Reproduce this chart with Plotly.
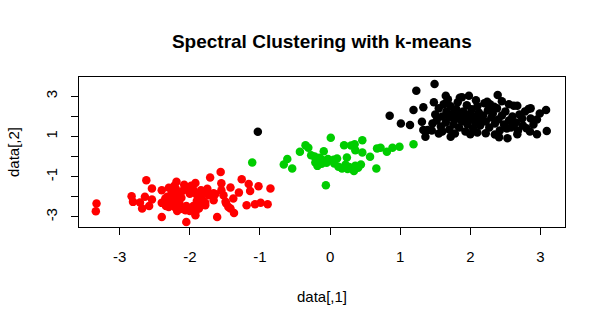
import plotly.graph_objects as go

# Cluster 1 (red)
red_x = [-3.33, -3.34, -2.62, -2.54, -2.83, -2.81, -2.71, -2.68, -2.58, -2.54, -2.40, -2.40, -2.19, -2.32,
         -2.34, -2.05, -1.56, -1.71, -1.92, -1.55, -1.26, -1.16, -1.02, -0.85, -1.42, -1.30, -1.14, -1.64,
         -1.52, -1.38, -1.48, -1.42, -1.37, -1.19, -1.07, -0.99, -0.89, -1.92, -1.61, -1.84, -1.55, -2.64,
         -2.35, -2.30, -2.20, -2.13, -2.06, -1.97, -1.87, -1.78, -1.66, -1.49, -1.45, -1.66, -1.73,
         -2.30, -2.25, -2.20, -2.15, -2.10, -2.05, -2.00, -1.95, -1.90, -1.85, -1.80, -2.30, -2.25, -2.20,
         -2.15, -2.12, -2.05, -1.95, -1.90, -1.88, -1.82, -2.18, -2.10, -2.00, -1.92, -2.28, -2.35, -1.78,
         -2.08, -1.98, -2.22, -1.75, -2.40]
red_y = [-2.33, -2.72, -1.17, -1.59, -1.97, -2.25, -2.28, -2.58, -2.46, -2.13, -1.67, -3.00, -1.25, -1.99,
         -2.46, -3.25, -0.76, -1.04, -1.31, -1.33, -1.13, -1.36, -1.47, -1.59, -1.54, -1.79, -1.71, -1.87,
         -1.92, -2.08, -2.33, -2.58, -2.80, -2.42, -2.37, -2.29, -2.37, -2.92, -3.00, -1.67, -1.67, -2.00,
         -2.08, -2.50, -2.55, -2.50, -2.67, -2.58, -2.58, -2.42, -2.17, -2.25, -2.50, -1.82, -1.92,
         -1.55, -1.80, -1.60, -1.90, -1.70, -1.55, -1.85, -1.65, -1.90, -2.00, -1.80, -2.20, -2.35, -2.10,
         -2.30, -2.05, -2.45, -2.45, -2.20, -2.35, -2.15, -2.70, -2.60, -2.70, -2.75, -1.95, -2.30, -2.30,
         -1.40, -1.45, -1.45, -1.60, -2.30]

# Cluster 2 (green)
green_x = [0.01, -1.11, -0.61, -0.66, -0.54, -0.43, -0.35, -0.31, -0.27, -0.21, -0.18, -0.09, -0.11, -0.03,
           0.04, -0.06, 0.20, 0.35, 0.46, 0.36, 0.46, 0.57, 0.24, 0.10, 0.06, 0.17, 0.27, 0.34, 0.36, 0.44,
           0.66, 0.67, 0.72, 0.81, 0.89, 0.99, 1.19, -0.15, -0.05, 0.12, 0.25, 0.40, -0.22, 0.30, 0.05,
           -0.12, 0.22]
green_y = [0.94, -0.29, -0.12, -0.39, -0.59, 0.24, 0.57, 0.44, 0.07, -0.29, -0.46, 0.27, -0.17, -0.12,
           -0.22, -1.42, 0.57, 0.61, 0.82, 0.32, 0.21, -0.01, -0.04, -0.09, -0.34, -0.59, -0.51, -0.72, -0.46,
           -0.39, -0.59, 0.41, 0.44, 0.24, 0.44, 0.49, 0.62, -0.05, -0.30, -0.50, -0.62, -0.55, 0.00, 0.55,
           -0.15, -0.35, -0.40]

# Cluster 3 (black)
black_x = [-1.03, 1.49, 1.23, 0.85, 1.01, 1.14, 1.19, 1.33, 1.31, 1.39, 1.36, 1.46, 1.65, 1.67, 1.85, 1.98,
           2.39, 1.72, 2.00, 2.22, 2.41, 2.53, 2.67, 2.80, 2.95, 3.09, 3.08, 2.99, 2.83, 2.67, 2.55, 2.24,
           2.34, 2.74, 2.86, 2.62, 2.62, 2.86, 1.33,
           1.50, 1.52, 1.55, 1.58, 1.60, 1.62, 1.65, 1.66, 1.70, 1.70, 1.72, 1.75, 1.76, 1.78, 1.80, 1.82,
           1.84, 1.85, 1.88, 1.90, 1.92, 1.93, 1.95, 1.96, 1.98, 2.00, 2.02, 2.04, 2.05, 2.07, 2.10, 2.12,
           2.14, 2.15, 2.18, 2.20, 2.22, 2.25, 2.27, 2.30, 2.32, 2.35, 2.38, 2.40, 2.42, 2.45, 2.48, 2.50,
           2.55, 2.58, 2.60, 2.65, 2.70, 2.75, 1.45, 1.48, 1.60, 1.68, 1.88, 2.08, 2.28, 2.45, 1.55, 1.78,
           2.10, 2.35, 2.52, 2.68, 2.78, 2.90, 2.95, 2.85]
black_y = [1.24, 3.61, 3.28, 2.03, 1.65, 1.57, 2.32, 2.45, 1.73, 1.32, 0.99, 1.65, 3.03, 2.73, 2.93, 3.03,
           3.06, 0.99, 1.11, 1.16, 0.96, 0.91, 1.11, 1.41, 1.11, 1.27, 2.32, 2.15, 2.37, 2.53, 2.60, 2.73,
           2.48, 1.90, 1.90, 1.57, 2.53, 2.40, 1.32,
           2.10, 1.80, 2.40, 1.50, 2.00, 2.60, 1.70, 2.25, 1.35, 1.95, 2.50, 2.15, 1.60, 1.85, 2.35, 2.70,
           1.45, 2.05, 1.75, 2.25, 1.95, 1.25, 2.55, 1.60, 2.10, 1.85, 2.35, 1.40, 2.00, 1.70, 2.50, 2.20,
           1.55, 1.90, 2.05, 2.65, 1.75, 2.30, 1.45, 1.95, 2.15, 1.65, 2.40, 1.85, 1.30, 2.05, 1.60, 2.25,
           1.80, 1.45, 2.00, 1.70, 2.10, 1.55, 1.30, 2.70, 1.25, 2.85, 2.95, 2.80, 2.60, 2.75, 1.15, 1.15,
           1.20, 1.10, 1.40, 1.30, 2.25, 1.60, 1.85, 1.25]

x_ticks = [-3, -2, -1, 0, 1, 2, 3]
y_ticks = [-3, -2, -1, 0, 1, 2, 3]
y_ticktext = ["-3", "", "-1", "", "1", "", "3"]

FONT = "Liberation Sans, Arial, Helvetica, sans-serif"
msize = 8.5

fig = go.Figure()
for xs, ys, col in [(black_x, black_y, "#000000"), (red_x, red_y, "#FF0000"), (green_x, green_y, "#00CD00")]:
    fig.add_trace(go.Scatter(x=xs, y=ys, mode="markers",
                             marker=dict(color=col, size=msize, line=dict(width=0)),
                             showlegend=False, hoverinfo="skip"))

axis_common = dict(showgrid=False, zeroline=False, showline=True, mirror=True,
                   linecolor="#000000", linewidth=1, ticks="outside", ticklen=7,
                   tickcolor="#000000", tickwidth=1,
                   tickfont=dict(family=FONT, size=15, color="#000000"))

fig.update_layout(
    width=605, height=325,
    margin=dict(l=79, r=40, t=77, b=98),
    paper_bgcolor="white", plot_bgcolor="white",
    font=dict(family=FONT, size=15, color="#000000"),
    title=dict(text="<b>Spectral Clustering with k-means</b>", x=0.532, xanchor="center",
               y=1 - 41 / 325, yanchor="middle", yref="container",
               font=dict(family=FONT, size=19, color="#000000")),
    xaxis=dict(range=[-3.58, 3.35], tickvals=x_ticks, ticktext=[str(v) for v in x_ticks],
               ticklabelstandoff=9, **axis_common),
    yaxis=dict(range=[-3.5, 3.96], tickvals=y_ticks, ticktext=y_ticktext, tickangle=-90,
               ticklabelstandoff=8, **axis_common),
    annotations=[
        dict(text="data[,1]", xref="paper", yref="paper", x=0.5, y=0, xanchor="center",
             yanchor="middle", yshift=-69, showarrow=False,
             font=dict(family=FONT, size=15, color="#000000")),
        dict(text="data[,2]", xref="paper", yref="paper", x=0, y=0.5, xanchor="center",
             yanchor="middle", xshift=-66, textangle=-90, showarrow=False,
             font=dict(family=FONT, size=15, color="#000000")),
    ],
)

fig.write_html("out.html")
